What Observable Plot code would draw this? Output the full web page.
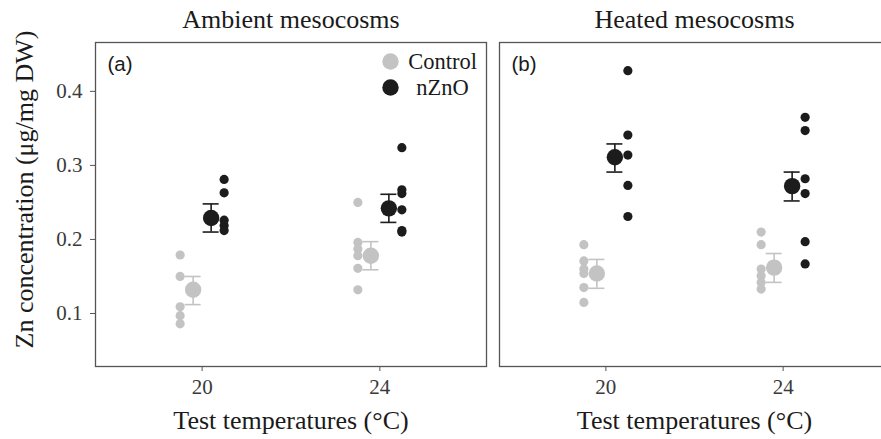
<!DOCTYPE html>
<html><head><meta charset="utf-8">
<script src="https://cdn.jsdelivr.net/npm/d3@7"></script>
<script src="https://cdn.jsdelivr.net/npm/@observablehq/plot@0.6"></script>
<style>
html,body{margin:0;padding:0;background:#fff;overflow:hidden;}
#wrap{position:relative;width:881px;height:439px;overflow:hidden;background:#fff;}
#wrap svg{position:absolute;top:0;}
</style></head><body><div id="wrap"></div>
<script>
const temps = [20, 24];
const groups = ["Control", "nZnO"];
const panelTitles = ["Ambient mesocosms", "Heated mesocosms"];
const panelTags = ["(a)", "(b)"];
const yTicks = [0.1, 0.2, 0.3, 0.4];
const xLabel = "Test temperatures (°C)";
const yLabel = "Zn concentration (μg/mg DW)";

// raw replicate values (µg/mg DW)
const ambientControl20 = [0.179, 0.150, 0.109, 0.097, 0.086];
const ambientControl24 = [0.250, 0.196, 0.187, 0.178, 0.161, 0.132];
const ambientNZnO20 = [0.281, 0.263, 0.226, 0.219, 0.212];
const ambientNZnO24 = [0.324, 0.267, 0.262, 0.240, 0.212, 0.210];
const heatedControl20 = [0.193, 0.171, 0.160, 0.154, 0.135, 0.115];
const heatedControl24 = [0.210, 0.193, 0.160, 0.151, 0.142, 0.133];
const heatedNZnO20 = [0.428, 0.341, 0.314, 0.273, 0.231];
const heatedNZnO24 = [0.365, 0.347, 0.282, 0.262, 0.197, 0.167];

// means and error-bar bounds, at [20, 24]
const ambientControlMean = [0.132, 0.178];
const ambientControlLo = [0.112, 0.159];
const ambientControlHi = [0.150, 0.197];
const ambientNZnOMean = [0.229, 0.242];
const ambientNZnOLo = [0.210, 0.223];
const ambientNZnOHi = [0.248, 0.261];
const heatedControlMean = [0.154, 0.162];
const heatedControlLo = [0.134, 0.142];
const heatedControlHi = [0.173, 0.181];
const heatedNZnOMean = [0.311, 0.272];
const heatedNZnOLo = [0.291, 0.252];
const heatedNZnOHi = [0.329, 0.291];

const colors = {Control: "#c3c3c3", nZnO: "#1c1c1c"};
const offsets = {raw: {Control: -22, nZnO: 22}, mean: {Control: -9, nZnO: 9}};

function rawRows(group, a20, a24) {
  return [...a20.map(v => ({group, temp: temps[0], value: v})),
          ...a24.map(v => ({group, temp: temps[1], value: v}))];
}
function meanRows(group, m, lo, hi) {
  return temps.map((t, i) => ({group, temp: t, mean: m[i], lo: lo[i], hi: hi[i]}));
}

const panelData = [
  {
    raw: [...rawRows("Control", ambientControl20, ambientControl24), ...rawRows("nZnO", ambientNZnO20, ambientNZnO24)],
    means: [...meanRows("Control", ambientControlMean, ambientControlLo, ambientControlHi),
            ...meanRows("nZnO", ambientNZnOMean, ambientNZnOLo, ambientNZnOHi)]
  },
  {
    raw: [...rawRows("Control", heatedControl20, heatedControl24), ...rawRows("nZnO", heatedNZnO20, heatedNZnO24)],
    means: [...meanRows("Control", heatedControlMean, heatedControlLo, heatedControlHi),
            ...meanRows("nZnO", heatedNZnOMean, heatedNZnOLo, heatedNZnOHi)]
  }
];

const serif = "Liberation Serif, Times New Roman, serif";
const sans = "Liberation Sans, Arial, sans-serif";

function makePanel(i) {
  const d = panelData[i];
  const first = i === 0;
  const marks = [];
  for (const g of groups) {
    marks.push(Plot.dot(d.raw.filter(r => r.group === g), {x: "temp", y: "value", r: 4.6, fill: colors[g], dx: offsets.raw[g]}));
  }
  for (const g of groups) {
    const m = d.means.filter(r => r.group === g);
    marks.push(Plot.ruleX(m, {x: "temp", y1: "lo", y2: "hi", stroke: colors[g], strokeWidth: 1.6, dx: offsets.mean[g]}));
    marks.push(Plot.ruleY(m, {x1: "temp", x2: "temp", y: "lo", stroke: colors[g], strokeWidth: 1.6, dx: offsets.mean[g], insetLeft: -8, insetRight: -8}));
    marks.push(Plot.ruleY(m, {x1: "temp", x2: "temp", y: "hi", stroke: colors[g], strokeWidth: 1.6, dx: offsets.mean[g], insetLeft: -8, insetRight: -8}));
    marks.push(Plot.dot(m, {x: "temp", y: "mean", r: 8.2, fill: colors[g], dx: offsets.mean[g]}));
  }
  marks.push(Plot.frame({stroke: "#555", strokeWidth: 1.3}));
  marks.push(Plot.axisX(temps, {tickSize: 5, tickPadding: 8, stroke: "#555", fill: "#3a3a3a", fontSize: 21, label: null}));
  if (first) {
    marks.push(Plot.axisY(yTicks, {tickSize: 5, tickPadding: 8, stroke: "#555", fill: "#3a3a3a", fontSize: 21, tickFormat: d3.format(".1f"), label: null}));
    marks.push(Plot.text([yLabel], {frameAnchor: "left", textAnchor: "middle", lineAnchor: "middle", rotate: -90, dx: -71, dy: -15, fontSize: 26, fill: "#1a1a1a", fontFamily: serif}));
    // legend
    groups.forEach((g, k) => {
      marks.push(Plot.dot([g], {frameAnchor: "top-right", dx: -96, dy: 19 + 26 * k, r: 8.2, fill: colors[g]}));
      marks.push(Plot.text([g], {frameAnchor: "top-right", dx: -44, dy: 19 + 26 * k, textAnchor: "middle", lineAnchor: "middle", fontSize: 22.5, fill: "#1a1a1a", fontFamily: serif}));
    });
  }
  marks.push(Plot.text([panelTitles[i]], {frameAnchor: "top", dy: -15, lineAnchor: "bottom", fontSize: 26, fill: "#1a1a1a", fontFamily: serif}));
  marks.push(Plot.text([xLabel], {frameAnchor: "bottom", dy: 62, lineAnchor: "bottom", fontSize: 26, fill: "#1a1a1a", fontFamily: serif}));
  marks.push(Plot.text([panelTags[i]], {frameAnchor: "top-left", dx: 12, dy: 21.5, textAnchor: "start", lineAnchor: "middle", fontSize: 20.5, fill: "#1a1a1a", fontFamily: sans}));

  return Plot.plot({
    width: first ? 492 : 398,
    height: 439,
    marginLeft: first ? 95 : 7,
    marginRight: first ? 6 : 1,
    marginTop: 42,
    marginBottom: 73,
    x: {domain: [17.6, 26.4]},
    y: {domain: [0.0284, 0.466], axis: null},
    style: {fontFamily: serif, fontSize: "21px", background: "transparent", overflow: "visible"},
    marks
  });
}

const wrap = document.getElementById("wrap");
const a = makePanel(0); a.style.left = "0px"; wrap.appendChild(a);
const b = makePanel(1); b.style.left = "492px"; wrap.appendChild(b);
</script>
</body></html>
